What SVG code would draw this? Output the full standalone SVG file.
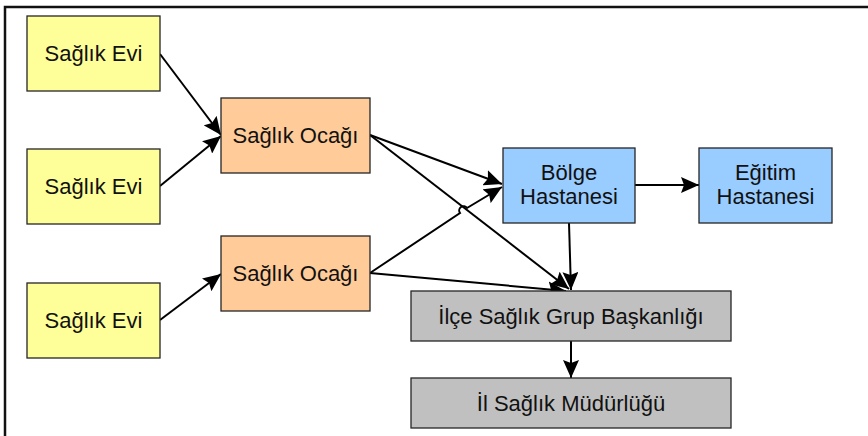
<svg xmlns="http://www.w3.org/2000/svg" width="868" height="436" viewBox="0 0 868 436">
  <style>
    .box { stroke: #262626; stroke-width: 1.3; }
    .evi { fill: #FFFF99; }
    .ocak { fill: #FFCC99; }
    .hast { fill: #99CCFF; }
    .idare { fill: #C0C0C0; }
    .lbl { font-family: "Liberation Sans", Arial, sans-serif; font-size: 22px; fill: #111; text-anchor: middle; }
    .edge { fill: none; stroke: #000; stroke-width: 2; marker-end: url(#arrow); }
  </style>
  <defs>
    <marker id="arrow" markerUnits="userSpaceOnUse" markerWidth="20" markerHeight="16" refX="18" refY="8" orient="auto">
      <path d="M0,0 L18,8 L0,16 L3,8 Z" fill="#000"/>
    </marker>
  </defs>

  <rect width="868" height="436" fill="#fff"/>
  <!-- outer frame -->
  <path d="M5,436 V7 H868" fill="none" stroke="#111" stroke-width="2.5"/>

  <g id="connectors">
    <line class="edge" x1="160" y1="54" x2="221" y2="135"/>
    <line class="edge" x1="160" y1="186" x2="221" y2="136"/>
    <line class="edge" x1="160" y1="320" x2="221" y2="274"/>
    <line class="edge" x1="370" y1="135" x2="502" y2="184"/>
    <line class="edge" x1="370" y1="135" x2="569" y2="289"/>
    <path class="edge" d="M370,273 L460,213 A4,4 0 0 1 467,208 L502,187"/>
    <line class="edge" x1="370" y1="273" x2="566" y2="291"/>
    <line class="edge" x1="569" y1="223" x2="571" y2="290"/>
    <line class="edge" x1="635" y1="185" x2="699" y2="185"/>
    <line class="edge" x1="571" y1="341" x2="571" y2="378"/>
  </g>

  <g id="saglik-evi-1">
    <rect class="box evi" x="27" y="16" width="133" height="75"/>
    <text class="lbl" x="93.5" y="60.5">Sağlık Evi</text>
  </g>
  <g id="saglik-evi-2">
    <rect class="box evi" x="27" y="149" width="133" height="75"/>
    <text class="lbl" x="93.5" y="193.5">Sağlık Evi</text>
  </g>
  <g id="saglik-evi-3">
    <rect class="box evi" x="27" y="283" width="133" height="75"/>
    <text class="lbl" x="93.5" y="327.5">Sağlık Evi</text>
  </g>
  <g id="saglik-ocagi-1">
    <rect class="box ocak" x="221" y="98" width="149" height="75"/>
    <text class="lbl" x="295.5" y="142.5">Sağlık Ocağı</text>
  </g>
  <g id="saglik-ocagi-2">
    <rect class="box ocak" x="221" y="236" width="149" height="75"/>
    <text class="lbl" x="295.5" y="280.5">Sağlık Ocağı</text>
  </g>
  <g id="bolge-hastanesi">
    <rect class="box hast" x="503" y="148" width="132" height="75"/>
    <text class="lbl" x="569" y="180">Bölge</text>
    <text class="lbl" x="569" y="204">Hastanesi</text>
  </g>
  <g id="egitim-hastanesi">
    <rect class="box hast" x="699" y="148" width="133" height="75"/>
    <text class="lbl" x="765.5" y="180">Eğitim</text>
    <text class="lbl" x="765.5" y="204">Hastanesi</text>
  </g>
  <g id="ilce-saglik-grup-baskanligi">
    <rect class="box idare" x="411" y="291" width="320" height="50"/>
    <text class="lbl" x="571" y="323.5">İlçe Sağlık Grup Başkanlığı</text>
  </g>
  <g id="il-saglik-mudurlugu">
    <rect class="box idare" x="411" y="378" width="320" height="50"/>
    <text class="lbl" x="571" y="410.5">İl Sağlık Müdürlüğü</text>
  </g>
</svg>
